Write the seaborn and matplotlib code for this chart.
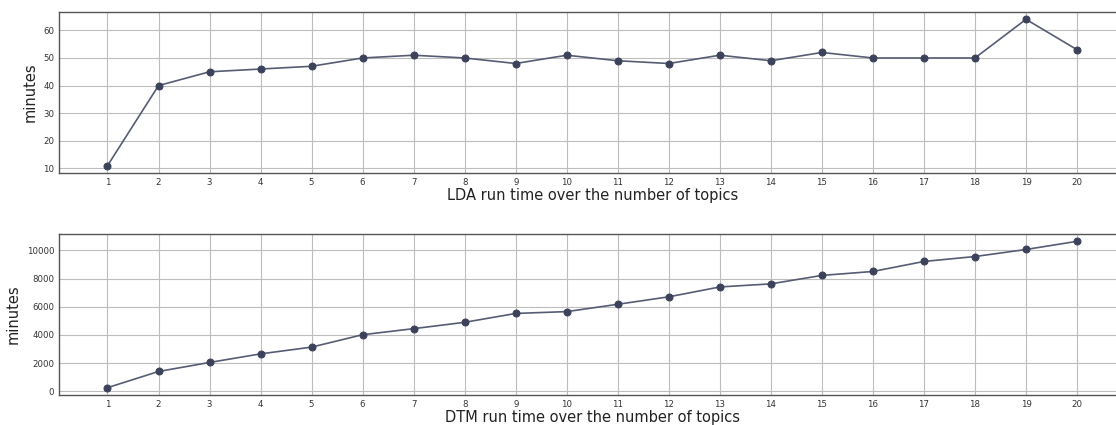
import matplotlib
matplotlib.use("Agg")
import matplotlib.pyplot as plt
import seaborn as sns
import pandas as pd

topics = list(range(1, 21))
lda_minutes = [11, 40, 45, 46, 47, 50, 51, 50, 48, 51, 49, 48, 51, 49, 52, 50, 50, 50, 64, 53]
dtm_minutes = [250, 1400, 2040, 2650, 3130, 4010, 4440, 4890, 5520, 5650, 6170, 6700,
               7400, 7620, 8220, 8500, 9210, 9560, 10060, 10640]

lda_df = pd.DataFrame({"topics": topics, "minutes": lda_minutes})
dtm_df = pd.DataFrame({"topics": topics, "minutes": dtm_minutes})

sns.set_style("whitegrid")
plt.rcParams['font.family'] = ['DejaVu Sans']

W, H = 1116, 425
fig = plt.figure(figsize=(W / 100, H / 100), dpi=100)

def px_axes(left, top, right, bottom):
    return fig.add_axes([left / W, 1 - bottom / H, (right - left) / W, (bottom - top) / H])

ax1 = px_axes(59, 12, 1125.5, 173)
ax2 = px_axes(59, 234, 1125.5, 395)

line_color = "#565c74"
marker_color = "#3b4259"

for ax, df, label in [(ax1, lda_df, "LDA run time over the number of topics"),
                      (ax2, dtm_df, "DTM run time over the number of topics")]:
    sns.lineplot(data=df, x="topics", y="minutes", ax=ax, color=line_color,
                 marker="o", markersize=5, markerfacecolor=marker_color,
                 markeredgecolor=marker_color, linewidth=1.2)
    ax.set_xticks(topics)
    ax.set_xlabel(label, fontsize=10.5, color="#222222", labelpad=1)
    ax.set_ylabel("minutes", fontsize=10.5, color="#222222")
    ax.tick_params(axis="both", labelsize=6.2, length=0, pad=3.5, colors="#333333")
    ax.grid(True, color="#bdbdbd", linewidth=0.8)
    for s in ax.spines.values():
        s.set_color("#555555")
        s.set_linewidth(1.0)
        s.set_visible(True)

ax2.set_yticks([0, 2000, 4000, 6000, 8000, 10000])

fig.savefig("out.png", dpi=100)
